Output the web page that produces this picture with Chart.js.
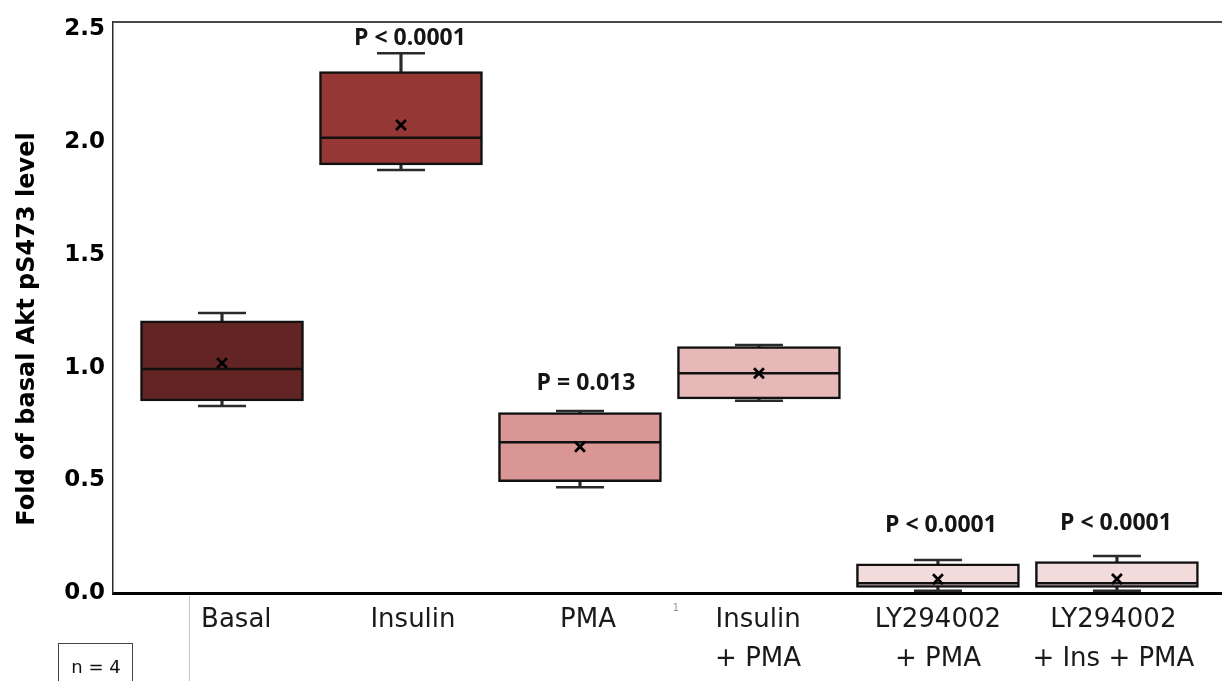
<!DOCTYPE html>
<html>
<head>
<meta charset="utf-8">
<title>Akt pS473 box plot</title>
<script src="https://cdn.jsdelivr.net/npm/chart.js@4/dist/chart.umd.min.js"></script>
<style>
  html, body { margin: 0; padding: 0; background: #fff; }
  #wrap { width: 1222px; height: 681px; position: relative; }
</style>
</head>
<body>
<div id="wrap"><canvas id="c" width="1222" height="681"></canvas></div>
<script>
// Treatment groups (multi-line axis labels)
const categories = [
  ['Basal'],
  ['Insulin'],
  ['PMA'],
  ['Insulin', '+ PMA'],
  ['LY294002', '+ PMA'],
  ['LY294002', '+ Ins + PMA']
];

// Box plot statistics per group, fold of basal
const whiskerLow  = [0.830, 1.877, 0.469, 0.853, 0.010, 0.010];
const q1          = [0.852, 1.899, 0.494, 0.861, 0.025, 0.025];
const medians     = [0.994, 2.020, 0.669, 0.975, 0.043, 0.043];
const means       = [1.020, 2.076, 0.649, 0.975, 0.061, 0.062];
const q3          = [1.207, 2.313, 0.800, 1.093, 0.129, 0.139];
const whiskerHigh = [1.242, 2.394, 0.807, 1.100, 0.146, 0.164];

// Significance versus basal
const pLabels = ['', 'P < 0.0001', 'P = 0.013', '', 'P < 0.0001', 'P < 0.0001'];

// Value axis ticks
const yTicks = [0, 0.5, 1.0, 1.5, 2.0, 2.5];

const sampleSize = 'n = 4';
const yTitle = 'Fold of basal Akt pS473 level';

// Appearance
const boxFills = ['#632524', '#953735', '#D99694', '#E6B9B8', '#F2DCDB', '#F2DCDB'];
const pLabelLift = [0, 15, 28, 0, 35, 33];          // px above the upper whisker
const pLabelShift = [0, 9, 6, 0, 3, -1];            // px sideways from the box centre
const labelNudge = [0.08, 0.067, 0.045, -0.005, 0, -0.02]; // group label table offset

const idx = categories.map((_, i) => i);

// Static decorations: top frame, y title, p-values, sample-size box
const decorations = {
  id: 'decorations',
  afterDatasetsDraw(chart) {
    const { ctx, chartArea, scales } = chart;
    ctx.save();

    // top frame line
    ctx.strokeStyle = '#4a4a4a';
    ctx.lineWidth = 2;
    ctx.beginPath();
    ctx.moveTo(chartArea.left, chartArea.top);
    ctx.lineTo(chartArea.right, chartArea.top);
    ctx.stroke();

    // p-values above each box
    ctx.fillStyle = '#151515';
    ctx.font = 'bold 23px "Open Sans"';
    ctx.textAlign = 'center';
    ctx.textBaseline = 'middle';
    pLabels.forEach((t, i) => {
      if (!t) return;
      const x = scales.x.getPixelForValue(i);
      const y = scales.y.getPixelForValue(whiskerHigh[i]) - pLabelLift[i];
      ctx.fillText(t, x + pLabelShift[i], y);
    });

    // rotated axis title
    ctx.save();
    ctx.translate(34, 329);
    ctx.rotate(-Math.PI / 2);
    ctx.font = 'bold 24px "DejaVu Sans"';
    ctx.fillStyle = '#000';
    ctx.textAlign = 'center';
    ctx.textBaseline = 'alphabetic';
    ctx.fillText(yTitle, 0, 0);
    ctx.restore();

    // table divider under the axis
    ctx.strokeStyle = '#c4c4c4';
    ctx.lineWidth = 1;
    ctx.beginPath();
    ctx.moveTo(189.5, chartArea.bottom + 3);
    ctx.lineTo(189.5, chart.height);
    ctx.stroke();

    // sample-size box
    ctx.strokeStyle = '#444';
    ctx.lineWidth = 1;
    ctx.strokeRect(58.5, 643.5, 74, 50);
    ctx.fillStyle = '#111';
    ctx.font = '18px "DejaVu Sans"';
    ctx.textAlign = 'center';
    ctx.textBaseline = 'alphabetic';
    ctx.fillText(sampleSize, 96, 673);

    // footnote marker
    ctx.fillStyle = '#999';
    ctx.font = '10px "DejaVu Sans"';
    ctx.fillText('1', 676, 611);

    ctx.restore();
  }
};

new Chart(document.getElementById('c'), {
  type: 'bar',
  data: {
    datasets: [
      {
        type: 'line',
        label: 'Mean',
        data: idx.map(i => ({ x: i, y: means[i] })),
        showLine: false,
        pointStyle: 'crossRot',
        pointRadius: 7,
        pointBorderColor: '#000',
        pointBorderWidth: 2.8,
        pointBackgroundColor: '#000'
      },
      {
        type: 'line',
        label: 'Median',
        data: idx.map(i => ({ x: i, y: medians[i] })),
        showLine: false,
        pointStyle: 'line',
        pointRadius: 80,
        pointBorderColor: '#111',
        pointBorderWidth: 2.5
      },
      {
        type: 'bar',
        label: 'IQR',
        data: idx.map(i => ({ x: i, y: [q1[i], q3[i]] })),
        backgroundColor: boxFills,
        borderColor: '#111',
        borderWidth: 2.5,
        borderSkipped: false,
        barThickness: 163,
        grouped: false
      },
      {
        type: 'line',
        label: 'Whisker caps',
        data: idx.flatMap(i => [{ x: i, y: whiskerLow[i] }, { x: i, y: whiskerHigh[i] }]),
        showLine: false,
        pointStyle: 'line',
        pointRadius: 24,
        pointBorderColor: '#2a2a2a',
        pointBorderWidth: 2.5
      },
      {
        type: 'bar',
        label: 'Whiskers',
        data: idx.map(i => ({ x: i, y: [whiskerLow[i], whiskerHigh[i]] })),
        backgroundColor: '#2a2a2a',
        borderWidth: 0,
        barThickness: 2.5,
        grouped: false
      }
    ]
  },
  options: {
    responsive: false,
    animation: false,
    events: [],
    layout: { autoPadding: false, padding: { top: 22, left: 0, right: 0, bottom: 0 } },
    plugins: {
      legend: { display: false },
      tooltip: { enabled: false }
    },
    scales: {
      x: {
        type: 'linear',
        min: -0.609,
        max: 5.587,
        offset: false,
        z: 1,
        grid: { display: false, drawTicks: false },
        border: { display: true, color: '#000', width: 3 },
        afterBuildTicks: s => { s.ticks = idx.map(i => ({ value: i + labelNudge[i] })); },
        afterFit: s => { s.height = 88; s.paddingLeft = 0; s.paddingRight = 0; },
        ticks: {
          autoSkip: false,
          maxRotation: 0,
          padding: 8,
          color: '#1a1a1a',
          font: { family: 'DejaVu Sans', size: 26, lineHeight: 1.5 },
          callback: (v, i) => categories[i]
        }
      },
      y: {
        type: 'linear',
        min: 0,
        max: 2.533,
        grid: { display: false, drawTicks: false },
        border: { display: true, color: '#2b2b2b', width: 1.5 },
        afterBuildTicks: s => { s.ticks = yTicks.map(v => ({ value: v })); },
        afterFit: s => { s.width = 113; s.paddingTop = 0; s.paddingBottom = 0; },
        ticks: {
          padding: 8,
          color: '#000',
          font: { family: 'DejaVu Sans', size: 23, weight: 'bold' },
          callback: v => Number(v).toFixed(1)
        }
      }
    }
  },
  plugins: [decorations]
});
</script>
</body>
</html>
